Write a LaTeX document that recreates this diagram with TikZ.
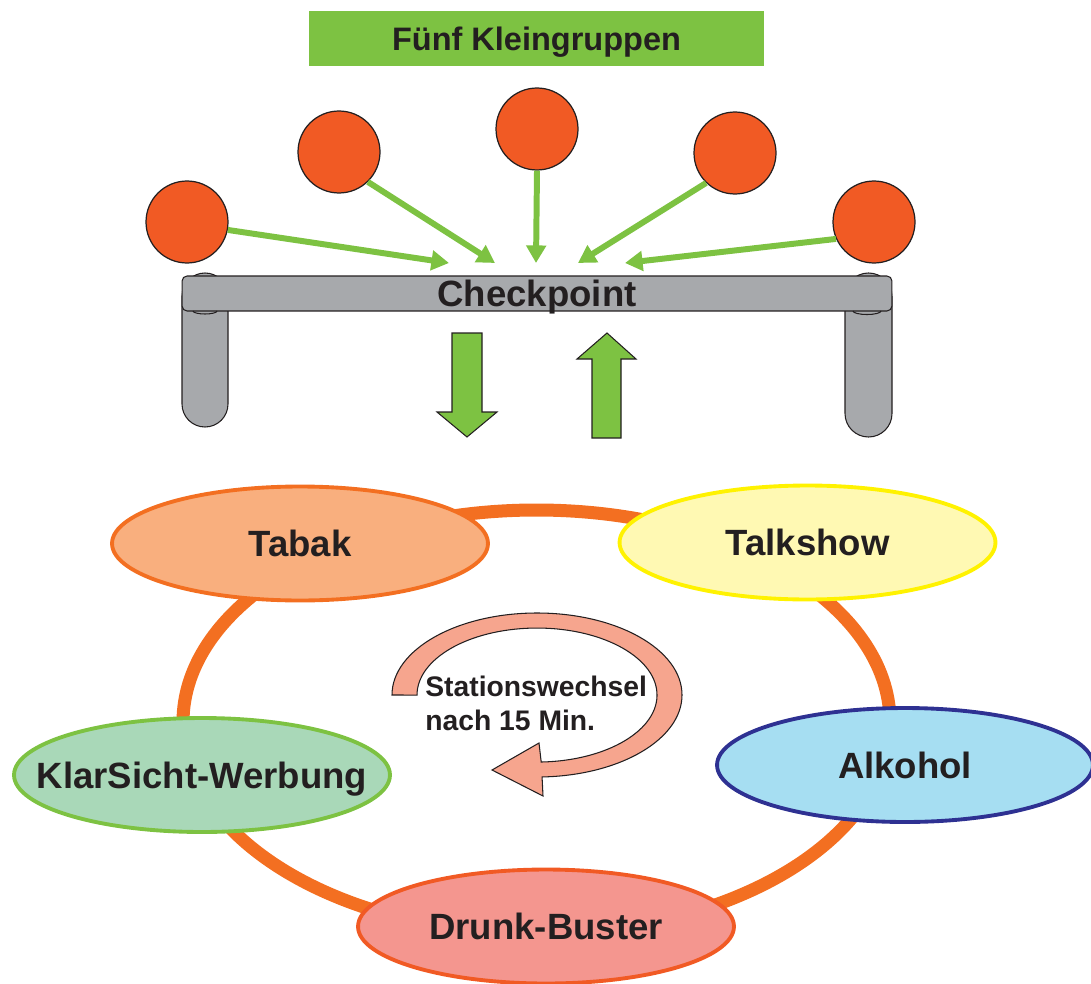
\documentclass[tikz,border=0pt]{standalone}
\usepackage{fontspec}
\setmainfont{Liberation Sans}
\usetikzlibrary{arrows.meta,shapes.geometric}

\definecolor{ink}{HTML}{231F20}
\definecolor{leaf}{HTML}{7DC242}
\definecolor{dotred}{HTML}{F15A24}
\definecolor{ringorange}{HTML}{F36F21}
\definecolor{bargray}{HTML}{A7A9AC}
\definecolor{tabakfill}{HTML}{F9AF7E}
\definecolor{talkfill}{HTML}{FFF9B3}
\definecolor{talkline}{HTML}{FFF200}
\definecolor{alkfill}{HTML}{A6DEF2}
\definecolor{alkline}{HTML}{2E3192}
\definecolor{klarfill}{HTML}{A9D8B8}
\definecolor{drunkfill}{HTML}{F4968F}
\definecolor{drunkline}{HTML}{F15A24}
\definecolor{swapfill}{HTML}{F6A58E}

% station label: centred text that does not widen the ellipse
\newcommand{\stationlabel}[1]{\makebox[0pt][c]{#1}}

\tikzset{
  station/.style={ellipse, minimum width=7.52cm, minimum height=2.28cm, inner sep=0pt,
    line width=2.2pt, text=ink, font=\bfseries\fontsize{20.8}{25}\selectfont,
    text height=14.9pt, text depth=0pt},
  group/.style={circle, minimum size=1.64cm, inner sep=0pt, fill=dotred, draw=ink, line width=0.7pt},
  feed/.style={draw=leaf, line width=3.4pt, -{Triangle[length=10pt,width=11pt]}},
  titlebox/.style={fill=leaf, minimum width=9.1cm, minimum height=1.1cm, inner sep=0pt,
    text=ink, font=\bfseries\fontsize{18.5}{22}\selectfont, text height=13.2pt, text depth=0pt},
  barbox/.style={rectangle, rounded corners=0.1cm, fill=bargray, draw=ink, line width=0.6pt,
    minimum width=14.2cm, minimum height=0.7cm, inner sep=0pt, text=ink,
    font=\bfseries\fontsize{20.8}{25}\selectfont, text height=14.9pt, text depth=0pt},
  legpart/.style={fill=bargray, draw=ink, line width=0.6pt},
  blockarrow/.style={fill=leaf, draw=ink, line width=0.6pt},
  ring/.style={draw=ringorange, line width=7.4pt},
  swap/.style={fill=swapfill, draw=ink, line width=0.6pt},
  swaptext/.style={text=ink, font=\bfseries\fontsize{16.1}{18.8}\selectfont, align=left, inner sep=0pt}
}

\begin{document}
\begin{tikzpicture}[x=0.02cm, y=-0.02cm]
\useasboundingbox (0,0) rectangle (1091,983);

% heading
\node[titlebox] (title) at (536.5,38.5) {Fünf Kleingruppen};

% the five groups
\node[group] (g1) at (187,222) {};
\node[group] (g2) at (339,152) {};
\node[group] (g3) at (537,129) {};
\node[group] (g4) at (735,153) {};
\node[group] (g5) at (874,222) {};

% legs of the checkpoint table
\draw[legpart, rounded corners=0.46cm] (182,273) rectangle (228,427);
\draw[legpart, rounded corners=0.47cm] (845,273) rectangle (892,437);

% checkpoint bar
\node[barbox] (cp) at (537,293.5) {Checkpoint};
\draw[ink, line width=0.6pt] (193,311) arc[start angle=180, end angle=0, x radius=12, y radius=3];
\draw[ink, line width=0.6pt] (853,311) arc[start angle=180, end angle=0, x radius=14, y radius=3.5];

% arrow tips on the bar
\coordinate (t1) at (449,263);
\coordinate (t2) at (495,263);
\coordinate (t3) at (536,263);
\coordinate (t4) at (578,263);
\coordinate (t5) at (625,263);

\draw[feed] (g1.-11) -- (t1);
\draw[feed] (g2.-46) -- (t2);
\draw[feed] (g3.south) -- (t3);
\draw[feed] (g4.226) -- (t4);
\draw[feed] (g5.204) -- (t5);

% down and up block arrows
\draw[blockarrow] (452,333) -- (482,333) -- (482,412) -- (497,412) -- (467,437)
  -- (437,412) -- (452,412) -- cycle;
\draw[blockarrow] (592,438) -- (621,438) -- (621,359) -- (636,359) -- (607,333)
  -- (577,359) -- (592,359) -- cycle;

% circuit of the stations
\draw[ring] (536.5,722) ellipse [x radius=353.5, y radius=212];

% stations
\node[station, fill=tabakfill, draw=ringorange] (tabak) at (300,543.5) {\stationlabel{Tabak}};
\node[station, fill=talkfill, draw=talkline] (talk) at (807.5,542.5) {\stationlabel{Talkshow}};
\node[station, fill=alkfill, draw=alkline] (alk) at (905,765) {\stationlabel{Alkohol}};
\node[station, fill=klarfill, draw=leaf] (klar) at (202,775) {\stationlabel{KlarSicht-Werbung}};
\node[station, fill=drunkfill, draw=drunkline] (drunk) at (546,926.5) {\stationlabel{Drunk-Buster}};

% rotation arrow
\draw[swap] (392,695) arc[start angle=180, end angle=448, x radius=145, y radius=82]
  -- (543,796) -- (492,770) -- (539,743) -- (541.2,762)
  arc[start angle=448, end angle=180, x radius=120, y radius=67] -- cycle;
\node[swaptext, anchor=base west] (swaplabel) at (425,730) {Stationswechsel\\nach 15 Min.};

\end{tikzpicture}
\end{document}
